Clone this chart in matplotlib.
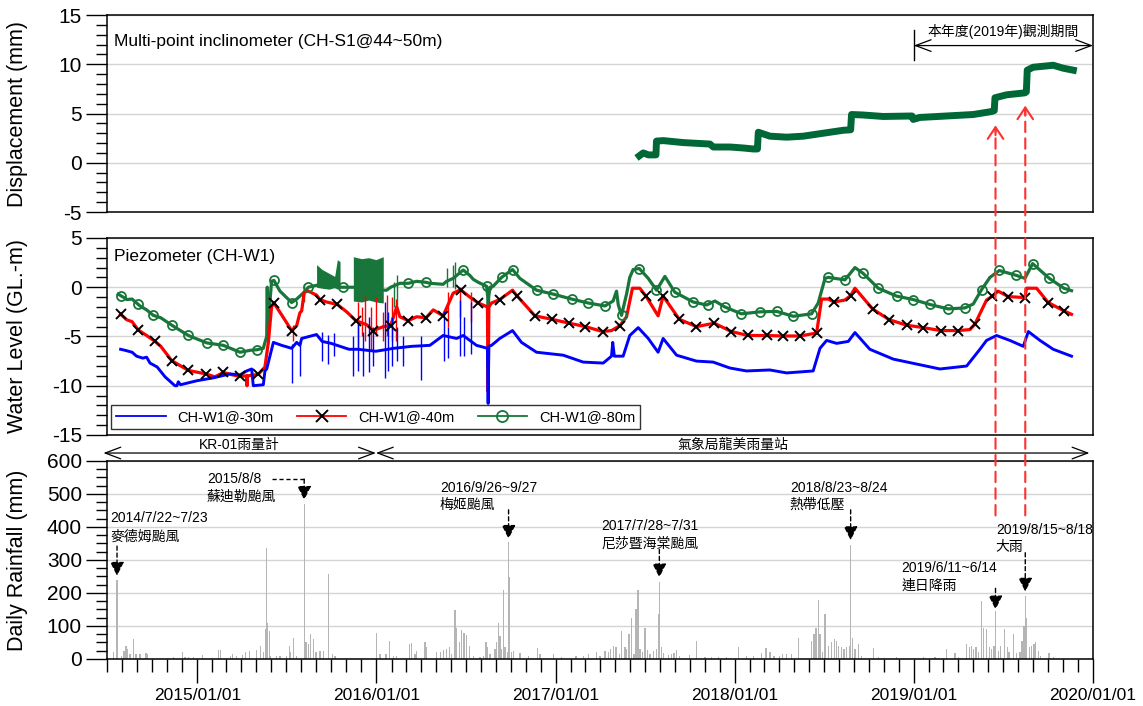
import numpy as np
import pandas as pd
import matplotlib
matplotlib.use("Agg")
import matplotlib.pyplot as plt
import matplotlib.dates as mdates
from matplotlib.ticker import MultipleLocator
from matplotlib.lines import Line2D
from matplotlib.patches import ConnectionPatch

plt.rcParams['font.family'] = ['Liberation Sans', 'Noto Sans CJK TC']
plt.rcParams['axes.unicode_minus'] = False

# times are decimal years (2014.5 = 2014/07/01)

# multi-point inclinometer CH-S1 (mm)
disp_t = [2017.469, 2017.491, 2017.520, 2017.562, 2017.565, 2017.603, 2017.714, 2017.863,
          2017.882, 2017.975, 2018.049, 2018.105, 2018.128, 2018.133, 2018.198, 2018.291,
          2018.384, 2018.495, 2018.607, 2018.648, 2018.653, 2018.718, 2018.830, 2018.990,
          2018.997, 2019.034, 2019.183, 2019.332, 2019.434, 2019.449, 2019.453, 2019.518,
          2019.620, 2019.628, 2019.633, 2019.666, 2019.778, 2019.834, 2019.890]
disp_v = [0.7, 1.0, 0.8, 0.8, 2.2, 2.25, 2.05, 1.9,
          1.6, 1.6, 1.5, 1.4, 1.4, 3.1, 2.7, 2.6,
          2.7, 3.0, 3.3, 3.35, 4.9, 4.85, 4.7, 4.75,
          4.4, 4.6, 4.75, 4.9, 5.2, 5.3, 6.6, 6.9,
          7.1, 7.2, 9.4, 9.7, 9.9, 9.6, 9.4]

# piezometer CH-W1 (GL.-m)
w30_t = [2014.576, 2014.600, 2014.640, 2014.665, 2014.700, 2014.721, 2014.740, 2014.780,
         2014.824, 2014.879, 2014.890, 2014.898, 2014.910, 2015.000, 2015.093, 2015.186,
         2015.242, 2015.279, 2015.307, 2015.316, 2015.372, 2015.381, 2015.391, 2015.428,
         2015.474, 2015.530, 2015.558, 2015.576, 2015.586, 2015.669, 2015.700, 2015.750,
         2015.800, 2015.850, 2015.900, 2016.000, 2016.100, 2016.200, 2016.301, 2016.375,
         2016.450, 2016.487, 2016.561, 2016.622, 2016.626, 2016.630, 2016.645, 2016.691,
         2016.762, 2016.812, 2016.896, 2017.045, 2017.156, 2017.268, 2017.314, 2017.321,
         2017.330, 2017.379, 2017.416, 2017.463, 2017.519, 2017.574, 2017.602, 2017.677,
         2017.788, 2017.881, 2017.974, 2018.067, 2018.197, 2018.291, 2018.439, 2018.477,
         2018.514, 2018.570, 2018.635, 2018.672, 2018.755, 2018.886, 2019.016, 2019.146,
         2019.295, 2019.369, 2019.406, 2019.462, 2019.536, 2019.611, 2019.639, 2019.704,
         2019.778, 2019.880]
w30_v = [-6.3, -6.4, -6.6, -7.0, -7.2, -7.1, -7.7, -8.1,
         -9.1, -10.0, -10.0, -9.6, -9.9, -9.5, -9.2, -8.8,
         -8.9, -8.5, -8.3, -10.0, -9.9, -8.5, -8.3, -5.6,
         -5.9, -6.2, -5.6, -5.9, -5.2, -4.8, -5.5, -5.7,
         -6.0, -6.3, -6.3, -6.5, -6.2, -6.0, -5.9, -4.9,
         -5.2, -4.9, -5.9, -6.2, -11.8, -6.0, -5.9, -5.2,
         -4.4, -5.6, -6.6, -6.9, -7.6, -7.7, -7.0, -5.6,
         -7.0, -7.0, -4.9, -4.1, -5.2, -6.6, -5.2, -6.9,
         -7.5, -7.6, -8.2, -8.5, -8.4, -8.7, -8.5, -6.2,
         -5.4, -5.7, -5.5, -4.6, -6.3, -7.3, -7.8, -8.3,
         -8.0, -6.3, -5.4, -4.9, -5.4, -6.0, -4.5, -5.4,
         -6.3, -7.0]

w40_t = [2014.576, 2014.610, 2014.640, 2014.675, 2014.721, 2014.768, 2014.800, 2014.861,
         2014.954, 2015.052, 2015.102, 2015.149, 2015.200, 2015.242, 2015.279, 2015.281,
         2015.284, 2015.344, 2015.381, 2015.400, 2015.418, 2015.431, 2015.474, 2015.530,
         2015.558, 2015.576, 2015.586, 2015.600, 2015.623, 2015.669, 2015.688, 2015.725,
         2015.785, 2015.837, 2015.889, 2015.948, 2015.985, 2016.041, 2016.082, 2016.116,
         2016.134, 2016.181, 2016.227, 2016.279, 2016.320, 2016.375, 2016.431, 2016.472,
         2016.524, 2016.571, 2016.622, 2016.626, 2016.630, 2016.645, 2016.691, 2016.762,
         2016.788, 2016.887, 2016.980, 2017.078, 2017.169, 2017.264, 2017.314, 2017.361,
         2017.398, 2017.431, 2017.472, 2017.506, 2017.574, 2017.602, 2017.692, 2017.788,
         2017.887, 2017.983, 2018.076, 2018.179, 2018.268, 2018.365, 2018.458, 2018.486,
         2018.523, 2018.555, 2018.616, 2018.648, 2018.672, 2018.770, 2018.863, 2018.960,
         2019.053, 2019.150, 2019.248, 2019.313, 2019.341, 2019.406, 2019.438, 2019.471,
         2019.527, 2019.573, 2019.620, 2019.629, 2019.685, 2019.750, 2019.837, 2019.880]
w40_v = [-2.75, -3.3, -3.5, -4.35, -4.9, -5.5, -6.0, -7.45,
         -8.45, -8.8, -9.1, -8.65, -8.9, -9.05, -9.0, -10.0,
         -9.0, -8.85, -8.1, -5.6, -2.0, -1.6, -2.8, -4.4,
         -3.9, -2.6, -2.4, -0.5, -0.4, -0.8, -1.25, -1.5,
         -1.75, -2.5, -3.4, -3.8, -4.4, -4.0, -3.9, -2.0,
         -3.0, -3.4, -3.0, -3.1, -2.3, -2.9, -0.6, -0.25,
         -1.0, -1.6, -2.0, -10.6, -2.0, -1.6, -1.25, -0.3,
         -0.9, -2.9, -3.25, -3.65, -4.0, -4.5, -4.4, -3.9,
         -3.0, -0.1, -0.1, -0.9, -2.9, -0.9, -3.25, -4.0,
         -3.65, -4.5, -4.9, -4.9, -4.95, -4.95, -4.65, -1.2,
         -1.2, -1.5, -1.3, -0.85, -0.1, -2.2, -3.3, -3.85,
         -4.1, -4.4, -4.4, -4.3, -3.75, -1.3, -0.9, -0.4,
         -0.95, -1.0, -1.05, -0.1, -0.1, -1.55, -2.4, -2.75]

w80_t = [2014.563, 2014.576, 2014.600, 2014.610, 2014.640, 2014.684, 2014.721, 2014.758,
         2014.800, 2014.861, 2014.954, 2015.056, 2015.149, 2015.242, 2015.300, 2015.335,
         2015.372, 2015.381, 2015.391, 2015.394, 2015.397, 2015.418, 2015.431, 2015.465,
         2015.530, 2015.558, 2015.576, 2015.600, 2015.623, 2015.669, 2015.800, 2015.818,
         2015.874, 2016.041, 2016.060, 2016.082, 2016.134, 2016.181, 2016.227, 2016.279,
         2016.301, 2016.375, 2016.394, 2016.431, 2016.487, 2016.524, 2016.543, 2016.571,
         2016.617, 2016.624, 2016.626, 2016.629, 2016.636, 2016.654, 2016.701, 2016.762,
         2016.803, 2016.896, 2016.989, 2017.091, 2017.184, 2017.277, 2017.323, 2017.342,
         2017.352, 2017.370, 2017.398, 2017.416, 2017.435, 2017.469, 2017.519, 2017.565,
         2017.612, 2017.667, 2017.770, 2017.844, 2017.891, 2017.946, 2018.039, 2018.141,
         2018.235, 2018.328, 2018.430, 2018.467, 2018.505, 2018.523, 2018.616, 2018.672,
         2018.718, 2018.802, 2018.904, 2018.997, 2019.090, 2019.192, 2019.285, 2019.332,
         2019.378, 2019.425, 2019.477, 2019.573, 2019.620, 2019.663, 2019.756, 2019.837,
         2019.880]
w80_v = [-0.7, -0.85, -1.1, -1.25, -1.2, -1.9, -2.3, -2.85,
         -3.1, -3.85, -4.9, -5.65, -5.9, -6.6, -6.4, -6.35,
         -6.2, -5.6, -5.0, 0.0, -4.2, 0.6, 0.7, -0.4,
         -1.55, -1.2, -0.9, -0.5, 0.0, 0.2, 0.0, 0.0,
         0.0, -0.3, -0.3, 0.0, 0.4, 0.4, 0.6, 0.5,
         0.4, 0.3, 0.6, 0.9, 1.75, 1.2, 0.8, 0.5,
         0.1, -1.0, -5.0, -1.0, 0.0, 0.1, 1.0, 1.8,
         0.9, -0.3, -0.7, -1.2, -1.6, -1.9, -1.4, -0.4,
         -1.8, -2.85, -0.7, 1.0, 1.8, 1.9, 0.9, -0.3,
         1.1, -0.5, -1.5, -1.8, -1.4, -2.0, -2.7, -2.5,
         -2.45, -2.95, -2.7, -1.6, 0.9, 1.0, 0.75, 2.0,
         1.4, -0.1, -0.9, -1.25, -1.75, -2.2, -2.1, -1.7,
         -0.25, 1.0, 1.7, 1.2, 0.9, 2.4, 0.9, -0.1,
         -0.35]

# noisy spikes (time, low, high)
w30_spk_t = [2015.530, 2015.576, 2015.700, 2015.735, 2015.765, 2015.874, 2015.900, 2015.930,
             2015.960, 2015.985, 2016.050, 2016.070, 2016.090, 2016.116, 2016.150, 2016.250,
             2016.380, 2016.400, 2016.470, 2016.490, 2016.530]
w30_spk_lo = [-9.7, -9.0, -7.5, -7.8, -7.0, -9.0, -8.5, -9.0,
              -8.6, -8.0, -9.2, -8.5, -8.0, -7.5, -8.0, -9.4,
              -7.5, -7.2, -7.0, -7.0, -6.8]
w30_spk_hi = [-5.8, -5.5, -4.5, -4.8, -4.6, -5.0, -3.5, -4.5,
              -3.0, -4.0, -1.5, -2.5, -3.0, -4.0, -5.0, -5.0,
              -2.4, -4.0, -1.3, -3.0, -1.5]
w40_spk_t = [2015.535, 2015.900, 2015.920, 2015.940, 2015.970, 2016.000, 2016.040, 2016.060,
             2016.090, 2016.110, 2016.400, 2016.470, 2016.530]
w40_spk_lo = [-5.5, -6.3, -5.0, -5.5, -6.5, -5.0, -5.5, -5.0, -5.5, -5.5, -4.0, -3.0, -3.5]
w40_spk_hi = [-3.8, -1.5, -2.0, -0.8, -2.0, -1.0, -2.5, -0.8, -1.0, -1.2, -0.5, 0.0, -0.5]
w80_spk_t = [2015.600, 2016.100, 2016.120, 2016.394, 2016.431, 2016.440]
w80_spk_lo = [-1.5, -2.0, -2.5, 0.0, 0.0, -0.2]
w80_spk_hi = [0.3, 0.5, 1.2, 2.0, 2.3, 2.6]

# dense noisy blocks of the 80 m sensor
w80_blk1_t = [2015.669, 2015.700, 2015.740, 2015.770, 2015.785, 2015.800]
w80_blk1_lo = [0.0, -0.1, -0.2, 0.0, -0.2, -0.1]
w80_blk1_hi = [2.3, 1.8, 1.4, 1.1, 2.8, 2.6]
w80_blk2_t = [2015.874, 2015.920, 2015.960, 2016.000, 2016.041]
w80_blk2_lo = [-1.4, -1.5, -1.3, -1.5, -1.6]
w80_blk2_hi = [3.1, 2.9, 3.0, 2.8, 3.1]

# marker positions
x40_t = [2014.576, 2014.675, 2014.768, 2014.861, 2014.954, 2015.052, 2015.149, 2015.242,
         2015.344, 2015.431, 2015.530, 2015.688, 2015.785, 2015.889, 2015.985, 2016.082,
         2016.181, 2016.279, 2016.375, 2016.472, 2016.571, 2016.691, 2016.788, 2016.887,
         2016.980, 2017.078, 2017.169, 2017.264, 2017.361, 2017.506, 2017.602, 2017.692,
         2017.788, 2017.887, 2017.983, 2018.076, 2018.179, 2018.268, 2018.365, 2018.458,
         2018.555, 2018.648, 2018.770, 2018.863, 2018.960, 2019.053, 2019.150, 2019.248,
         2019.341, 2019.438, 2019.527, 2019.620, 2019.750, 2019.837]
x40_v = [-2.75, -4.35, -5.5, -7.45, -8.45, -8.8, -8.65, -9.05,
         -8.85, -1.6, -4.4, -1.25, -1.75, -3.4, -4.4, -3.9,
         -3.4, -3.1, -2.9, -0.25, -1.6, -1.25, -0.9, -2.9,
         -3.25, -3.65, -4.0, -4.5, -3.9, -0.9, -0.9, -3.25,
         -4.0, -3.65, -4.5, -4.9, -4.9, -4.95, -4.95, -4.65,
         -1.5, -0.85, -2.2, -3.3, -3.85, -4.1, -4.4, -4.4,
         -3.75, -0.9, -0.95, -1.05, -1.55, -2.4]
o80_t = [2014.576, 2014.675, 2014.758, 2014.861, 2014.954, 2015.056, 2015.149, 2015.242,
         2015.335, 2015.431, 2015.530, 2015.623, 2015.818, 2016.181, 2016.279, 2016.487,
         2016.617, 2016.701, 2016.766, 2016.896, 2016.989, 2017.091, 2017.184, 2017.277,
         2017.375, 2017.469, 2017.565, 2017.667, 2017.770, 2017.853, 2017.946, 2018.039,
         2018.141, 2018.235, 2018.328, 2018.430, 2018.523, 2018.616, 2018.718, 2018.802,
         2018.904, 2018.997, 2019.090, 2019.192, 2019.285, 2019.378, 2019.477, 2019.573,
         2019.663, 2019.756, 2019.837]
o80_v = [-0.85, -1.75, -2.85, -3.85, -4.9, -5.65, -5.9, -6.6,
         -6.35, 0.7, -1.55, 0.0, 0.0, 0.4, 0.5, 1.75,
         0.1, 1.0, 1.7, -0.3, -0.7, -1.2, -1.6, -1.9,
         -2.85, 1.9, -0.3, -0.5, -1.5, -1.8, -2.0, -2.7,
         -2.5, -2.45, -2.95, -2.7, 1.0, 0.75, 1.4, -0.1,
         -0.9, -1.25, -1.75, -2.2, -2.1, -0.25, 1.7, 1.2,
         2.4, 0.9, -0.1]

# daily rainfall (mm)
rain_t = [2014.535, 2014.556, 2014.582, 2014.595, 2014.606, 2014.615, 2014.628, 2014.647,
          2014.662, 2014.684, 2014.718, 2014.727, 2014.870, 2014.920, 2014.935, 2014.954,
          2014.982, 2015.034, 2015.121, 2015.134, 2015.190, 2015.201, 2015.223, 2015.257,
          2015.273, 2015.294, 2015.335, 2015.357, 2015.372, 2015.385, 2015.391, 2015.396,
          2015.405, 2015.413, 2015.446, 2015.465, 2015.502, 2015.517, 2015.524, 2015.539,
          2015.558, 2015.600, 2015.610, 2015.623, 2015.636, 2015.651, 2015.666, 2015.688,
          2015.707, 2015.736, 2015.759, 2015.772, 2016.004, 2016.023, 2016.056, 2016.075,
          2016.097, 2016.116, 2016.186, 2016.199, 2016.218, 2016.227, 2016.274, 2016.283,
          2016.339, 2016.361, 2016.376, 2016.394, 2016.409, 2016.422, 2016.441, 2016.450,
          2016.465, 2016.478, 2016.491, 2016.506, 2016.521, 2016.543, 2016.580, 2016.599,
          2016.614, 2016.623, 2016.636, 2016.664, 2016.673, 2016.683, 2016.692, 2016.701,
          2016.711, 2016.720, 2016.733, 2016.740, 2016.744, 2016.757, 2016.766, 2016.803,
          2016.850, 2016.900, 2016.915, 2016.989, 2017.036, 2017.116, 2017.157, 2017.185,
          2017.231, 2017.250, 2017.278, 2017.296, 2017.309, 2017.324, 2017.339, 2017.358,
          2017.371, 2017.389, 2017.398, 2017.412, 2017.425, 2017.439, 2017.451, 2017.462,
          2017.473, 2017.488, 2017.501, 2017.514, 2017.529, 2017.547, 2017.566, 2017.575,
          2017.581, 2017.594, 2017.603, 2017.631, 2017.649, 2017.662, 2017.677, 2017.692,
          2017.748, 2017.789, 2017.835, 2017.873, 2017.910, 2017.956, 2018.021, 2018.068,
          2018.105, 2018.151, 2018.176, 2018.198, 2018.220, 2018.250, 2018.269, 2018.291,
          2018.319, 2018.356, 2018.430, 2018.443, 2018.454, 2018.467, 2018.477, 2018.492,
          2018.505, 2018.523, 2018.542, 2018.557, 2018.570, 2018.579, 2018.598, 2018.611,
          2018.626, 2018.640, 2018.648, 2018.657, 2018.672, 2018.691, 2018.709, 2018.774,
          2018.802, 2018.904, 2019.053, 2019.118, 2019.183, 2019.230, 2019.248, 2019.295,
          2019.310, 2019.323, 2019.332, 2019.347, 2019.360, 2019.378, 2019.388, 2019.406,
          2019.421, 2019.434, 2019.447, 2019.456, 2019.471, 2019.484, 2019.508, 2019.521,
          2019.532, 2019.555, 2019.573, 2019.592, 2019.603, 2019.615, 2019.622, 2019.629,
          2019.644, 2019.657, 2019.670, 2019.681, 2019.694, 2019.707, 2019.755, 2019.778]
rain_v = [20, 240, 10, 25, 40, 30, 15, 60,
          15, 15, 18, 15, 5, 22, 5, 5,
          5, 13, 27, 27, 10, 15, 10, 13,
          22, 23, 28, 38, 20, 90, 337, 108,
          85, 10, 10, 10, 10, 40, 20, 63,
          10, 470, 50, 45, 75, 60, 20, 25,
          25, 258, 15, 10, 78, 15, 15, 53,
          10, 10, 45, 47, 15, 25, 50, 37,
          22, 20, 27, 30, 35, 15, 148, 93,
          50, 87, 80, 73, 40, 10, 5, 10,
          50, 37, 15, 30, 50, 110, 70, 30,
          208, 35, 20, 355, 248, 20, 23, 18,
          10, 32, 15, 15, 5, 10, 10, 15,
          22, 10, 25, 20, 30, 40, 37, 15,
          85, 35, 30, 75, 125, 15, 152, 208,
          30, 20, 95, 27, 15, 25, 30, 135,
          233, 35, 17, 12, 15, 17, 28, 10,
          13, 53, 5, 5, 5, 5, 37, 10,
          10, 17, 33, 20, 10, 10, 15, 15,
          15, 65, 55, 75, 95, 178, 75, 20,
          135, 40, 50, 60, 55, 40, 35, 30,
          37, 40, 345, 65, 30, 45, 10, 32,
          7, 7, 5, 5, 30, 17, 7, 45,
          37, 40, 30, 35, 20, 176, 95, 90,
          35, 30, 40, 146, 25, 40, 90, 35,
          20, 75, 17, 20, 55, 100, 190, 125,
          35, 40, 45, 50, 25, 10, 17, 7]

# rainfall events marked on the chart
ev_t = [2014.556, 2015.600, 2016.740, 2017.581, 2018.648, 2019.456, 2019.622]
ev_date = ['2014/7/22~7/23', '2015/8/8', '2016/9/26~9/27', '2017/7/28~7/31',
           '2018/8/23~8/24', '2019/6/11~6/14', '2019/8/15~8/18']
ev_name = ['麥德姆颱風', '蘇迪勒颱風', '梅姬颱風', '尼莎暨海棠颱風', '熱帶低壓', '連日降雨', '大雨']

# layout of the event labels: text x, date-line y, name-line y, dash top, arrow tip
ev_layout = [(2014.517, 427, 372, 342, 252),
             (2015.058, 545, 493, 545, 482),
             (2016.357, 518, 466, 452, 364),
             (2017.259, 403, 350, 332, 247),
             (2018.309, 518, 466, 452, 360),
             (2018.932, 275, 221, 214, 150),
             (2019.458, 391, 338, 322, 204)]
red_tip = [3.8, 5.8]

obs_start, obs_end = 2019.0, 2020.0
gauge_split = [2014.48, 2016.0, 2019.98]

T0 = pd.Timestamp('2014-07-01')


def to_date(yr):
    yr = np.atleast_1d(np.asarray(yr, dtype=float))
    return T0 + pd.to_timedelta((yr - 2014.5) * 365.45, unit='D')


def dnum(yr):
    return mdates.date2num(to_date(yr)[0])


fig = plt.figure(figsize=(11.43, 7.06), dpi=100)
ax1 = fig.add_axes([0.0936, 0.6997, 0.8627, 0.2790])
ax2 = fig.add_axes([0.0936, 0.3839, 0.8627, 0.2790])
ax3 = fig.add_axes([0.0936, 0.0666, 0.8627, 0.2805])


def style(ax, lo, hi, major, minor, label):
    ax.set_xlim(pd.Timestamp('2014-07-01'), pd.Timestamp('2020-01-01'))
    ax.set_ylim(lo, hi)
    ax.yaxis.set_major_locator(MultipleLocator(major))
    ax.yaxis.set_minor_locator(MultipleLocator(minor))
    ax.grid(axis='y', which='major', color='#d4d4d4', lw=1)
    ax.set_axisbelow(True)
    ax.tick_params(axis='y', which='major', direction='out', length=15, width=1, labelsize=15, pad=3)
    ax.tick_params(axis='y', which='minor', direction='out', length=8, width=1)
    for s in ax.spines.values():
        s.set_linewidth(1.1)
    ax.set_ylabel(label, fontsize=15.5)
    ax.yaxis.set_label_coords(-0.08, 0.5)


# ---- displacement
ax1.plot(to_date(disp_t), disp_v, color='#006837', lw=5, solid_joinstyle='round')
style(ax1, -5, 15, 5, 1, 'Displacement (mm)')
ax1.tick_params(axis='x', which='both', bottom=False, labelbottom=False)
ax1.text(0.007, 0.868, 'Multi-point inclinometer (CH-S1@44~50m)', transform=ax1.transAxes,
         fontsize=12.5, va='center')
ax1.plot([dnum(obs_start)] * 2, [10.4, 13.5], color='k', lw=1)
ax1.annotate('', xy=(dnum(obs_end), 11.9), xytext=(dnum(obs_start), 11.9),
             arrowprops=dict(arrowstyle='<->,head_length=0.8,head_width=0.3', color='k', lw=0.9,
                             shrinkA=0, shrinkB=0, mutation_scale=14), annotation_clip=False)
ax1.text(dnum((obs_start + obs_end) / 2), 13.3, '本年度(2019年)觀測期間', ha='center', va='center',
         fontsize=10)

# ---- water level
c30, c40, c80 = '#0000ff', '#ff0000', '#18763a'
ax2.fill_between(to_date(w80_blk1_t), w80_blk1_lo, w80_blk1_hi, color=c80, lw=0, zorder=2)
ax2.fill_between(to_date(w80_blk2_t), w80_blk2_lo, w80_blk2_hi, color=c80, lw=0, zorder=2)
ax2.vlines(to_date(w80_spk_t), w80_spk_lo, w80_spk_hi, color=c80, lw=1, zorder=2)
ax2.plot(to_date(w80_t), w80_v, color=c80, lw=2.3, zorder=2)
ax2.vlines(to_date(w40_spk_t), w40_spk_lo, w40_spk_hi, color=c40, lw=1, zorder=3)
ax2.plot(to_date(w40_t), w40_v, color=c40, lw=2.3, zorder=3)
ax2.vlines(to_date(w30_spk_t), w30_spk_lo, w30_spk_hi, color=c30, lw=1, zorder=4)
ax2.plot(to_date(w30_t), w30_v, color=c30, lw=2.1, zorder=4)
ax2.plot(to_date(x40_t), x40_v, ls='none', marker='x', ms=7, mew=1.4, color='k', zorder=6)
ax2.plot(to_date(o80_t), o80_v, ls='none', marker='o', ms=6.5, mew=1.3, mfc='none',
         mec=c80, zorder=6)
style(ax2, -15, 5, 5, 1, 'Water Level (GL.-m)')
ax2.tick_params(axis='x', which='both', bottom=False, labelbottom=False)
ax2.text(0.007, 0.904, 'Piezometer (CH-W1)', transform=ax2.transAxes, fontsize=12.5, va='center')
handles = [Line2D([], [], color=c30, lw=1.3),
           Line2D([], [], color=c40, lw=1.3, marker='x', ms=9, mew=1.4, mec='k'),
           Line2D([], [], color=c80, lw=1.3, marker='o', ms=8, mew=1.3, mfc='none', mec=c80)]
leg = ax2.legend(handles, ['CH-W1@-30m', 'CH-W1@-40m', 'CH-W1@-80m'], loc='lower left',
                 bbox_to_anchor=(0.004, 0.03), ncol=3, fontsize=10.5, frameon=True,
                 fancybox=False, edgecolor='k', handlelength=3.4, columnspacing=1.6,
                 borderpad=0.35, handletextpad=0.8, borderaxespad=0)
leg.get_frame().set_linewidth(1.0)
leg.set_zorder(10)

# ---- rainfall
ax3.bar(to_date(rain_t), rain_v, width=2.6, color='#b5b5b5', linewidth=0, zorder=2)
style(ax3, 0, 600, 100, 25, 'Daily Rainfall (mm)')
ax3.xaxis.set_major_locator(mdates.YearLocator())
ax3.xaxis.set_minor_locator(mdates.MonthLocator())
ax3.xaxis.set_major_formatter(mdates.DateFormatter('%Y/%m/%d'))
ax3.tick_params(axis='x', which='major', direction='out', length=17, width=1, labelsize=12.5, pad=4)
ax3.tick_params(axis='x', which='minor', direction='out', length=9, width=1)

for i, (t, dl, nm) in enumerate(zip(ev_t, ev_date, ev_name)):
    tx, ly, ny, dtop, tip = ev_layout[i]
    ax3.text(dnum(tx), ly, dl, fontsize=10, va='center', ha='left')
    ax3.text(dnum(tx), ny, nm, fontsize=10, va='center', ha='left')
    if i == 1:
        ax3.plot([dnum(2015.42), dnum(t)], [ly, ly], color='k', lw=1, ls=(0, (3, 2)))
    ax3.annotate('', xy=(dnum(t), tip), xytext=(dnum(t), dtop),
                 arrowprops=dict(arrowstyle='-|>,head_length=0.6,head_width=0.3', color='k',
                                 lw=1, ls=(0, (3, 2)), shrinkA=0, shrinkB=0, mutation_scale=14))

# rain gauge ranges above the rainfall panel
tr = ax3.get_xaxis_transform()
for a, b in zip(gauge_split[:-1], gauge_split[1:]):
    ax3.annotate('', xy=(dnum(b), 1.04), xytext=(dnum(a), 1.04), xycoords=tr, textcoords=tr,
                 arrowprops=dict(arrowstyle='<->,head_length=0.8,head_width=0.3', color='k',
                                 lw=0.9, shrinkA=0, shrinkB=0, mutation_scale=14),
                 annotation_clip=False)
ax3.text(dnum((gauge_split[0] + gauge_split[1]) / 2), 1.08, 'KR-01雨量計', transform=tr,
         ha='center', va='center', fontsize=10)
ax3.text(dnum((gauge_split[1] + gauge_split[2]) / 2), 1.08, '氣象局龍美雨量站', transform=tr,
         ha='center', va='center', fontsize=10)

# red dashed links from the 2019 rain events up to the displacement steps
for t, tip in zip(ev_t[5:], red_tip):
    x = dnum(t)
    con = ConnectionPatch(xyA=(x, 435), coordsA=ax3.transData, xyB=(x, tip - 0.3),
                          coordsB=ax1.transData, color='#ff3030', lw=1.5, ls=(0, (5, 3)))
    fig.add_artist(con)
    ax1.annotate('', xy=(x, tip), xytext=(x, tip - 1.0),
                 arrowprops=dict(arrowstyle='->,head_length=0.6,head_width=0.4', color='#ff3030',
                                 lw=1.5, shrinkA=0, shrinkB=0, mutation_scale=14))

fig.savefig('out.png', dpi=100)
